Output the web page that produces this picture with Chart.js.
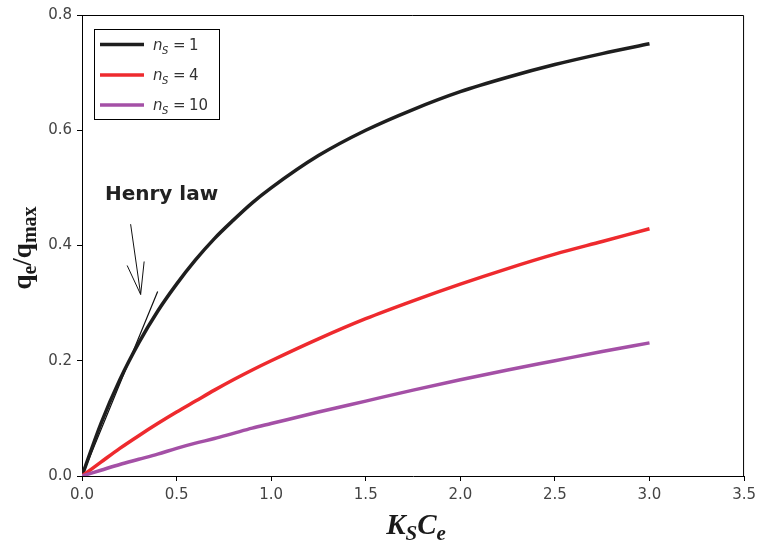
<!DOCTYPE html>
<html>
<head>
<meta charset="utf-8">
<script src="https://cdn.jsdelivr.net/npm/chart.js@4/dist/chart.umd.min.js"></script>
<style>
  html, body { margin: 0; padding: 0; background: #fff; }
  #chart { display: block; }
</style>
</head>
<body>
<canvas id="chart" width="761" height="545"></canvas>
<script>
// K_S * C_e values where the curves are sampled
const kc = [0, 0.1, 0.2, 0.3, 0.4, 0.5, 0.6, 0.7, 0.8, 0.9, 1.0,
            1.25, 1.5, 1.75, 2.0, 2.25, 2.5, 2.75, 3.0];

// q_e / q_max for each n_S
const ns1  = [0, 0.091, 0.167, 0.231, 0.286, 0.333, 0.375, 0.412, 0.444, 0.474, 0.500,
              0.556, 0.600, 0.636, 0.667, 0.692, 0.714, 0.733, 0.750];
const ns4  = [0, 0.024, 0.048, 0.070, 0.091, 0.111, 0.130, 0.149, 0.167, 0.184, 0.200,
              0.238, 0.273, 0.304, 0.333, 0.360, 0.385, 0.407, 0.429];
const ns10 = [0, 0.010, 0.020, 0.029, 0.038, 0.048, 0.057, 0.065, 0.074, 0.083, 0.091,
              0.111, 0.130, 0.149, 0.167, 0.184, 0.200, 0.216, 0.231];

// Henry law straight line near the origin
const henryX = [0, 0.4];
const henryY = [0, 0.32];

const seriesLabels = ['1', '4', '10'];
const seriesColors = ['#1e1e1e', '#ee2a2e', '#a450a6'];

const xTicks = [0, 0.5, 1.0, 1.5, 2.0, 2.5, 3.0, 3.5];
const yTicks = [0, 0.2, 0.4, 0.6, 0.8];

function pts(xs, ys) {
    return xs.map((x, i) => ({ x: x, y: ys[i] }));
}

// writes runs of [font, text, dy] one after another, centred on cx
function drawRuns(ctx, runs, cx, baseline) {
    let w = 0;
    runs.forEach(r => { ctx.font = r[0]; w += ctx.measureText(r[1]).width; });
    let x = cx - w / 2;
    runs.forEach(r => {
        ctx.font = r[0];
        ctx.fillText(r[1], x, baseline + r[2]);
        x += ctx.measureText(r[1]).width;
    });
}

// frame, legend, axis titles and the Henry law note
const decorations = {
    id: 'decorations',
    afterDraw(chart) {
        const ctx = chart.ctx;
        const a = chart.chartArea;
        const xs = chart.scales.x, ys = chart.scales.y;
        ctx.save();

        ctx.strokeStyle = '#000';
        ctx.lineWidth = 1;
        ctx.beginPath();
        ctx.moveTo(a.left, a.top + 0.5);
        ctx.lineTo(a.right - 0.5, a.top + 0.5);
        ctx.lineTo(a.right - 0.5, a.bottom);
        ctx.stroke();

        // legend box
        ctx.strokeRect(94.5, 29.5, 125, 90);
        const rows = [44.5, 75, 105];
        seriesLabels.forEach((lab, i) => {
            const y = rows[i];
            ctx.strokeStyle = seriesColors[i];
            ctx.lineWidth = 3.5;
            ctx.beginPath();
            ctx.moveTo(100, y);
            ctx.lineTo(144, y);
            ctx.stroke();
            ctx.fillStyle = '#333';
            ctx.textBaseline = 'alphabetic';
            ctx.textAlign = 'left';
            ctx.font = 'italic 15px "DejaVu Sans"';
            ctx.fillText('n', 153, y + 5);
            ctx.font = 'italic 10px "DejaVu Sans"';
            ctx.fillText('S', 162, y + 9);
            ctx.font = '15px "DejaVu Sans"';
            ctx.fillText('=', 173, y + 5);
            ctx.fillText(lab, 189, y + 5);
        });

        // Henry law note with arrow
        ctx.fillStyle = '#222';
        ctx.font = 'bold 20px "DejaVu Sans"';
        ctx.fillText('Henry law', xs.getPixelForValue(0.121), ys.getPixelForValue(0.479));
        const tx = xs.getPixelForValue(0.257), ty = ys.getPixelForValue(0.437);
        const hx = xs.getPixelForValue(0.31), hy = ys.getPixelForValue(0.315);
        ctx.strokeStyle = '#111';
        ctx.lineWidth = 1;
        ctx.beginPath();
        ctx.moveTo(tx, ty);
        ctx.lineTo(hx, hy);
        ctx.moveTo(hx - 13.5, hy - 29);
        ctx.lineTo(hx, hy);
        ctx.lineTo(hx + 3.5, hy - 33);
        ctx.stroke();

        ctx.fillStyle = '#1a1a1a';

        // y axis title
        ctx.save();
        ctx.translate(31, 248);
        ctx.rotate(-Math.PI / 2);
        drawRuns(ctx, [
            ['bold 27px "Liberation Serif"', 'q', 0],
            ['bold 20px "Liberation Serif"', 'e', 5],
            ['bold 27px "Liberation Serif"', '/q', 0],
            ['bold 20px "Liberation Serif"', 'max', 5]
        ], 0, 0);
        ctx.restore();

        // x axis title
        drawRuns(ctx, [
            ['italic bold 29px "Liberation Serif"', 'K', 0],
            ['italic bold 21px "Liberation Serif"', 'S', 6],
            ['italic bold 29px "Liberation Serif"', 'C', 0],
            ['italic bold 21px "Liberation Serif"', 'e', 6]
        ], 416, 534);

        ctx.restore();
    }
};

const datasets = [
    { data: pts(kc, ns10), borderColor: seriesColors[2], borderWidth: 3.5 },
    { data: pts(kc, ns4),  borderColor: seriesColors[1], borderWidth: 3.5 },
    { data: pts(kc, ns1),  borderColor: seriesColors[0], borderWidth: 3.5 },
    { data: pts(henryX, henryY), borderColor: '#111', borderWidth: 1.2 }
].map(d => Object.assign(d, {
    pointRadius: 0,
    fill: false,
    cubicInterpolationMode: 'monotone',
    borderCapStyle: 'butt'
}));

const tickFont = { family: 'DejaVu Sans', size: 15 };

new Chart(document.getElementById('chart').getContext('2d'), {
    type: 'line',
    data: { datasets: datasets },
    options: {
        responsive: false,
        animation: false,
        devicePixelRatio: 1,
        layout: { padding: { top: 15, right: 15, left: 0, bottom: 0 } },
        plugins: { legend: { display: false }, tooltip: { enabled: false } },
        scales: {
            x: {
                type: 'linear',
                min: 0, max: 3.5,
                afterFit: s => { s.height = 69; },
                afterBuildTicks: s => { s.ticks = xTicks.map(v => ({ value: v })); },
                ticks: { font: tickFont, color: '#444', padding: 5,
                         maxRotation: 0, callback: v => v.toFixed(1) },
                grid: { drawOnChartArea: false, tickLength: 5, color: '#000' },
                border: { color: '#000', width: 1 }
            },
            y: {
                type: 'linear',
                min: 0, max: 0.8,
                afterFit: s => { s.width = 82; },
                afterBuildTicks: s => { s.ticks = yTicks.map(v => ({ value: v })); },
                ticks: { font: tickFont, color: '#444', padding: 5,
                         callback: v => v.toFixed(1) },
                grid: { drawOnChartArea: false, tickLength: 5, color: '#000' },
                border: { color: '#000', width: 1 }
            }
        }
    },
    plugins: [decorations]
});
</script>
</body>
</html>
